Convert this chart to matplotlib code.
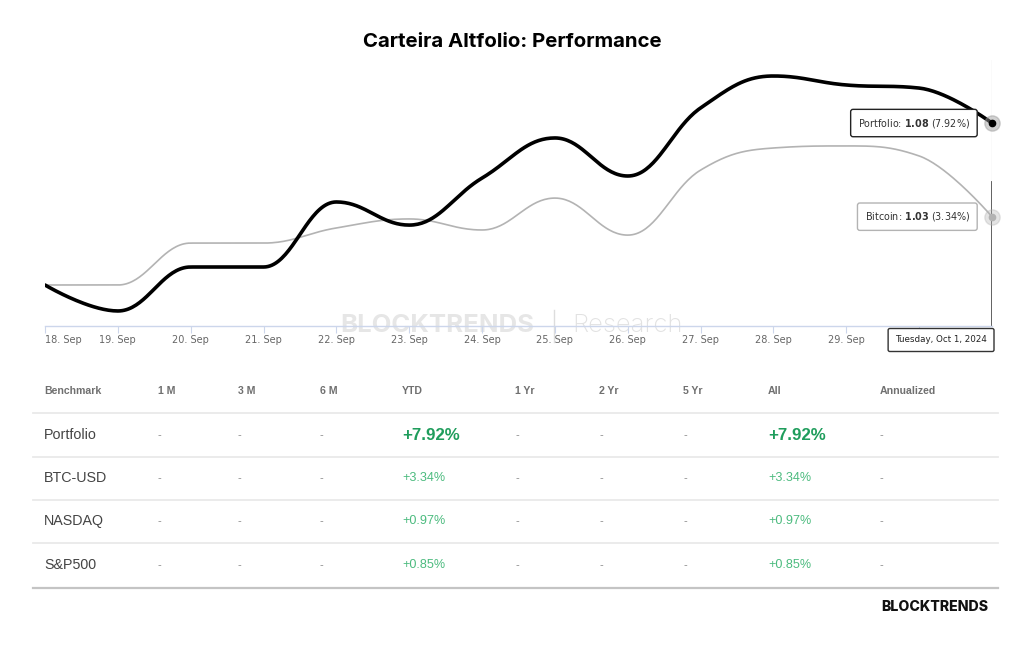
import numpy as np
import matplotlib
matplotlib.use("Agg")
import matplotlib.pyplot as plt
from matplotlib.lines import Line2D

plt.rcParams['mathtext.fontset'] = 'custom'
plt.rcParams['mathtext.rm'] = 'DejaVu Sans'
plt.rcParams['mathtext.bf'] = 'DejaVu Sans:bold'

W, H = 1024, 645

# chart data (index values, start = 1.0)
dates = ["18. Sep", "19. Sep", "20. Sep", "21. Sep", "22. Sep", "23. Sep", "24. Sep",
         "25. Sep", "26. Sep", "27. Sep", "28. Sep", "29. Sep", "30. Sep", "1. Oct"]
portfolio = [1.0000, 0.9873, 1.0088, 1.0088, 1.0406, 1.0293, 1.0523,
             1.0719, 1.0533, 1.0866, 1.1022, 1.0978, 1.0963, 1.0792]
bitcoin = [1.0000, 1.0000, 1.0205, 1.0205, 1.0279, 1.0323, 1.0269,
           1.0425, 1.0244, 1.0562, 1.0670, 1.0680, 1.0631, 1.0334]
portfolio_pct = 7.92
bitcoin_pct = 3.34
last_date = "Tuesday, Oct 1, 2024"

# table data
columns = ["Benchmark", "1 M", "3 M", "6 M", "YTD", "1 Yr", "2 Yr", "5 Yr", "All", "Annualized"]
benchmarks = ["Portfolio", "BTC-USD", "NASDAQ", "S&P500"]
ytd = ["+7.92%", "+3.34%", "+0.97%", "+0.85%"]
all_time = ["+7.92%", "+3.34%", "+0.97%", "+0.85%"]


def spline(xs, ys, n=40):
    # highcharts-like spline (smoothing 1.5)
    N = len(xs)
    lc = [None] * N
    rc = [None] * N
    for i in range(1, N - 1):
        px, py = xs[i], ys[i]
        lx, ly = xs[i - 1], ys[i - 1]
        nx, ny = xs[i + 1], ys[i + 1]
        lcx = (1.5 * px + lx) / 2.5
        lcy = (1.5 * py + ly) / 2.5
        rcx = (1.5 * px + nx) / 2.5
        rcy = (1.5 * py + ny) / 2.5
        corr = (rcy - lcy) * (rcx - px) / (rcx - lcx) + py - rcy
        lcy += corr
        rcy += corr
        if lcy > ly and lcy > py:
            lcy = max(ly, py); rcy = 2 * py - lcy
        elif lcy < ly and lcy < py:
            lcy = min(ly, py); rcy = 2 * py - lcy
        if rcy > ny and rcy > py:
            rcy = max(ny, py); lcy = 2 * py - rcy
        elif rcy < ny and rcy < py:
            rcy = min(ny, py); lcy = 2 * py - rcy
        lc[i] = (lcx, lcy)
        rc[i] = (rcx, rcy)
    t = np.linspace(0, 1, n)[:, None]
    out = []
    for i in range(1, N):
        p0 = np.array([xs[i - 1], ys[i - 1]])
        p3 = np.array([xs[i], ys[i]])
        c1 = np.array(rc[i - 1]) if rc[i - 1] is not None else p0
        c2 = np.array(lc[i]) if lc[i] is not None else p3
        seg = ((1 - t) ** 3) * p0 + 3 * ((1 - t) ** 2) * t * c1 + 3 * (1 - t) * t ** 2 * c2 + t ** 3 * p3
        out.append(seg)
    out = np.vstack(out)
    return out[:, 0], out[:, 1]


def fx(x):
    return x / W


def fy(y):
    return 1 - y / H


fig = plt.figure(figsize=(W / 100, H / 100), dpi=100)
fig.patch.set_facecolor('white')

fig.text(0.5, fy(42), "Carteira Altfolio: Performance", ha='center', va='center',
         fontsize=14.7, fontweight='bold', family='Inter', color='black')

ax = fig.add_axes([fx(45), fy(326), fx(992 - 45), (326 - 60) / H])
x = np.arange(len(dates))

# value scale: 1.0 at y=285px, 2045 px per unit
v_bot = 1 - (326 - 285) / 2045
v_top = 1 + (285 - 60) / 2045
ax.set_xlim(0, len(dates) - 1)
ax.set_ylim(v_bot, v_top)

# watermark
ax.text(0.517, 0.0, "BLOCKTRENDS", transform=ax.transAxes, ha='right', va='center',
        fontsize=18.5, fontweight='bold', family='Inter', color='#e6e6e6', zorder=0)
ax.text(0.5565, 0.0, "Research", transform=ax.transAxes, ha='left', va='center',
        fontsize=18.5, fontweight='light', family='Inter', color='#e2e2e2', zorder=0)
ax.plot([0.5375, 0.5375], [-0.06, 0.06], transform=ax.transAxes, color='#dddddd',
        lw=1, clip_on=False, zorder=0)

bx, by = spline(x, bitcoin)
ax.plot(bx, by, color='#b3b3b3', lw=1.2, solid_capstyle='round', zorder=3)
sx, sy = spline(x, portfolio)
ax.plot(sx, sy, color='black', lw=2.6, solid_capstyle='round', zorder=4)

# crosshair
ax.axvline(x[-1], ymin=0.54, ymax=1, color='#e6e6e6', lw=1, zorder=2)
ax.axvline(x[-1], ymin=0, ymax=0.54, color='#555555', lw=1.3, zorder=2)

# hover markers
ax.plot(x[-1], bitcoin[-1], 'o', ms=11, color='#b3b3b3', alpha=0.35, zorder=5, clip_on=False)
ax.plot(x[-1], bitcoin[-1], 'o', ms=4.5, color='#b3b3b3', zorder=6, clip_on=False)
ax.plot(x[-1], portfolio[-1], 'o', ms=11, color='#999999', alpha=0.45, zorder=5, clip_on=False)
ax.plot(x[-1], portfolio[-1], 'o', ms=4.5, color='black', zorder=6, clip_on=False)

# tooltips
ax.annotate(f"Portfolio: $\\mathbf{{{portfolio[-1]:.2f}}}$ ({portfolio_pct:.2f}%)",
            xy=(x[-1], portfolio[-1]), xytext=(-22, 0), textcoords='offset pixels',
            ha='right', va='center', fontsize=6.9, color='#333333', zorder=8,
            bbox=dict(boxstyle='round,pad=0.75,rounding_size=0.25', fc='white',
                      ec='#222222', lw=1.0))
ax.annotate(f"Bitcoin: $\\mathbf{{{bitcoin[-1]:.2f}}}$ ({bitcoin_pct:.2f}%)",
            xy=(x[-1], bitcoin[-1]), xytext=(-22, 0), textcoords='offset pixels',
            ha='right', va='center', fontsize=6.9, color='#333333', zorder=8,
            bbox=dict(boxstyle='round,pad=0.75,rounding_size=0.25', fc='white',
                      ec='#b3b3b3', lw=1.0))

# axes styling
for s in ['top', 'right', 'left']:
    ax.spines[s].set_visible(False)
ax.spines['bottom'].set_color('#ccd6eb')
ax.spines['bottom'].set_linewidth(1.0)
ax.set_yticks([])
ax.set_xticks(x[:-1])
ax.set_xticklabels(dates[:-1], fontsize=7, color='#666666', family='DejaVu Sans')
ax.get_xticklabels()[0].set_horizontalalignment('left')
ax.tick_params(axis='x', length=5, color='#ccd6eb', pad=1.5)

# date box at the end of axis
ax.annotate(last_date, xy=(x[-1], v_bot), xytext=(-5, -14), textcoords='offset pixels',
            ha='right', va='center', fontsize=6.3, color='#222222', zorder=8,
            annotation_clip=False,
            bbox=dict(boxstyle='round,pad=0.8,rounding_size=0.2', fc='white',
                      ec='#333333', lw=1.0))

# table
col_x = [44, 158, 238, 320, 402, 515, 599, 683, 768, 880]
header_y = 391
row_y = [435, 478, 521, 565]
line_y = [413, 457, 500, 543]

for cx, c in zip(col_x, columns):
    fig.text(fx(cx), fy(header_y), c, ha='left', va='center', fontsize=7.6,
             fontweight='bold', family='Liberation Sans', color='#707070')

for yy in line_y:
    fig.add_artist(Line2D([fx(33), fx(998)], [fy(yy), fy(yy)], color='#e9e9e9', lw=1.3))
fig.add_artist(Line2D([fx(33), fx(998)], [fy(588), fy(588)], color='#c4c4c4', lw=1.6))

for i, name in enumerate(benchmarks):
    yy = row_y[i]
    fig.text(fx(col_x[0]), fy(yy), name, ha='left', va='center', fontsize=10.3,
             family='Liberation Sans', color='#444444')
    for j in [1, 2, 3, 5, 6, 7, 9]:
        fig.text(fx(col_x[j]), fy(yy), "-", ha='left', va='center', fontsize=8,
                 family='Liberation Sans', color='#888888')
    if i == 0:
        kw = dict(fontsize=12.2, fontweight='bold', color='#1f9d5c')
    else:
        kw = dict(fontsize=9.1, color='#4cbb7f')
    fig.text(fx(col_x[4]), fy(yy), ytd[i], ha='left', va='center', family='Liberation Sans', **kw)
    fig.text(fx(col_x[8]), fy(yy), all_time[i], ha='left', va='center', family='Liberation Sans', **kw)

fig.text(fx(988), fy(607), "BLOCKTRENDS", ha='right', va='center', fontsize=10.2,
         fontweight='heavy', family='Inter', color='#111111')

fig.savefig("out.png", dpi=100, facecolor='white')
